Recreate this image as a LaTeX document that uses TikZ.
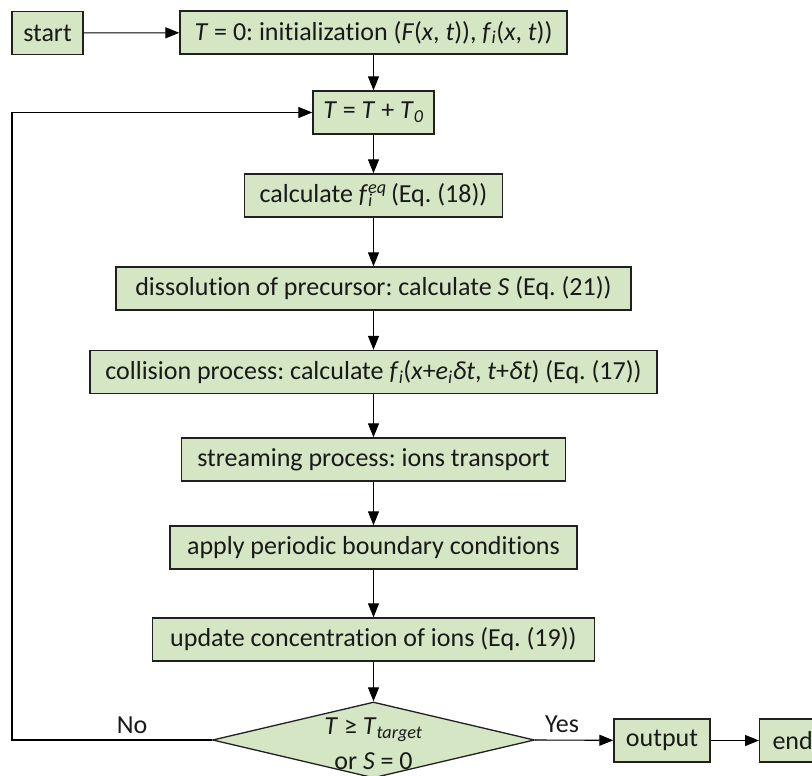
\documentclass[tikz,border=0pt]{standalone}
\usepackage{fontspec}
\setmainfont{Carlito}[Ligatures=NoCommon]
\usetikzlibrary{shapes.geometric,arrows.meta}
\definecolor{boxfill}{HTML}{D5E6C4}
\definecolor{boxline}{HTML}{202020}
\frenchspacing
\begin{document}
\begin{tikzpicture}[x=1pt,y=-1pt,
  every node/.style={font=\fontsize{26}{31}\selectfont\frenchspacing, text=black!90},
  stepbox/.style={draw=boxline, line width=1.3pt, fill=boxfill, minimum height=43pt, inner xsep=8pt, inner ysep=2pt},
  decbox/.style={draw=boxline, line width=1.3pt, fill=boxfill, shape=diamond, inner sep=0pt, minimum width=322pt, minimum height=76pt},
  conn/.style={line width=1.1pt, black, -{Triangle[length=14pt,width=11pt]}},
  lbl/.style={inner sep=0pt}
]
\useasboundingbox (0,0) rectangle (812,776);

\node[stepbox, minimum width=71pt] (start) at (47.5,33) {start};
\node[stepbox, minimum width=387pt] (init) at (373.5,32.5) {\textit{T} = 0: initialization (\textit{F}(\textit{x}, \textit{t})), \textit{f}\textsubscript{\textit{i}}(\textit{x}, \textit{t}))};
\node[stepbox, minimum width=121pt] (tt) at (373.5,112.5) {\textit{T} = \textit{T} + \textit{T}\textsubscript{\textit{0}}};
\node[stepbox, minimum width=258pt] (calc) at (373.5,195.5) {calculate \textit{f}\rlap{\textsubscript{\textit{i}}}\textsuperscript{\textit{eq}}\,(Eq. (18))};
\node[stepbox, minimum width=515pt] (diss) at (373.5,288.5) {dissolution of precursor: calculate \textit{S} (Eq. (21))};
\node[stepbox, minimum width=567pt] (coll) at (373.5,372) {collision process: calculate \textit{f}\textsubscript{\textit{i}}(\textit{x}+\textit{e}\textsubscript{\textit{i}}\textit{δt}, \textit{t}+\textit{δt}) (Eq. (17))};
\node[stepbox, minimum width=384pt] (strm) at (373.5,459.5) {streaming process: ions transport};
\node[stepbox, minimum width=407pt] (appl) at (373.5,547.5) {apply periodic boundary conditions};
\node[stepbox, minimum width=442pt] (upd) at (373.5,639.5) {update concentration of ions (Eq. (19))};
\node[decbox] (dia) at (373.5,740) {};
\node[lbl, align=center] (diatext) at (373.5,744) {\textit{T} ≥ \textit{T}\textsubscript{\textit{target}}\\[4pt] or \textit{S} = 0};
\node[stepbox, minimum width=96pt] (out) at (662,740.5) {output};
\node[stepbox, minimum width=66pt, anchor=west] (end) at (759,740.5) {end};
\coordinate (loopc) at (12,740);

\node[lbl] (no) at (132,725) {No};
\node[lbl] (yes) at (562,724) {Yes};

\draw[conn] (start) -- (init);
\draw[conn] (init) -- (tt);
\draw[conn] (tt) -- (calc);
\draw[conn] (calc) -- (diss);
\draw[conn] (diss) -- (coll);
\draw[conn] (coll) -- (strm);
\draw[conn] (strm) -- (appl);
\draw[conn] (appl) -- (upd);
\draw[conn] (upd) -- (dia);
\draw[conn] (dia.east) -- (out);
\draw[conn] (out) -- (end);
\draw[conn] (dia.west) -- (loopc) |- (tt.west);
\end{tikzpicture}
\end{document}
